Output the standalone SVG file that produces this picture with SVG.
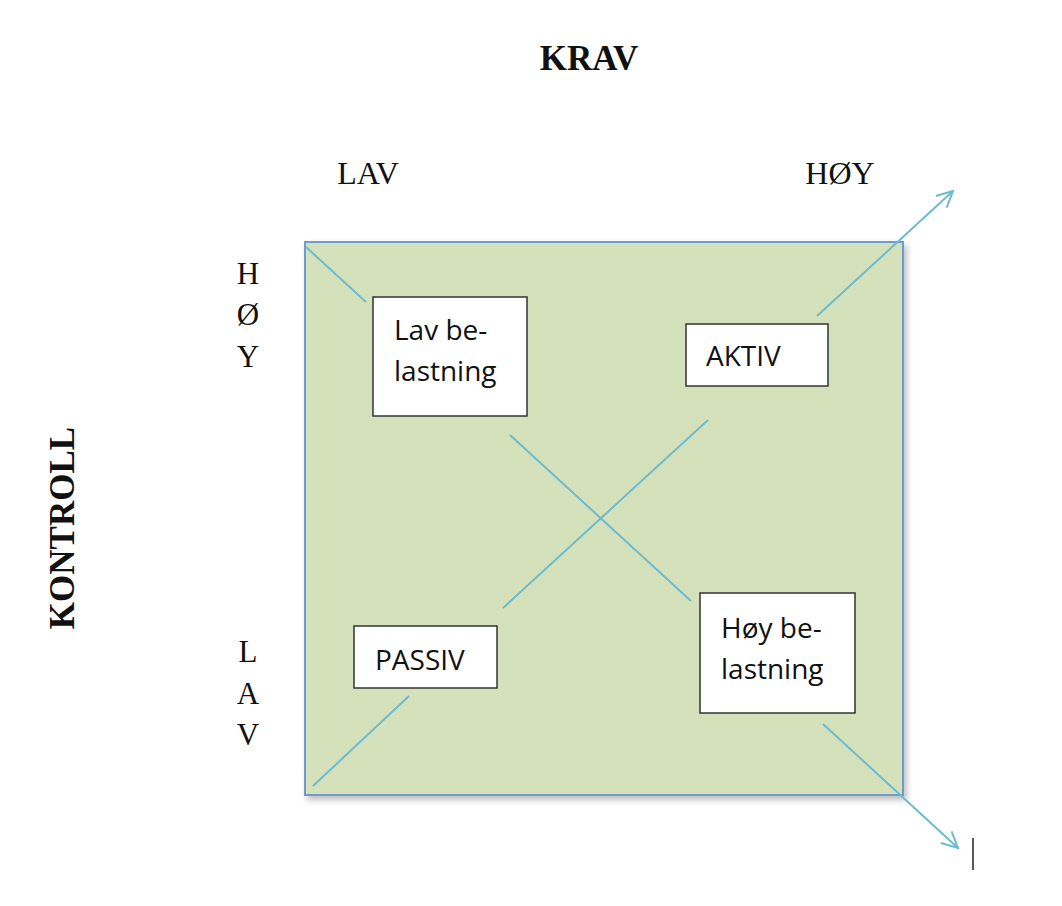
<svg xmlns="http://www.w3.org/2000/svg" width="1062" height="906" viewBox="0 0 1062 906">
<defs>
<style>
.serif{font-family:"Liberation Serif","DejaVu Serif",serif;fill:#111}
.lbl{font-family:"Open Sans","Noto Sans","Liberation Sans",sans-serif;font-size:28px;fill:#111}
.box{fill:#fff;stroke:#333;stroke-width:1.5}
.conn{stroke:#6bbcd0;stroke-width:2;fill:none}
</style>
<marker id="arr" viewBox="0 0 20 20" refX="18" refY="10" markerWidth="20" markerHeight="20" markerUnits="userSpaceOnUse" orient="auto">
<path d="M2,2 L18,10 L2,18" fill="none" stroke="#6bbcd0" stroke-width="2"/>
</marker>
<filter id="sh" x="-5%" y="-5%" width="115%" height="115%">
<feDropShadow dx="3" dy="4" stdDeviation="3" flood-color="#000" flood-opacity="0.25"/>
</filter>
</defs>
<rect width="1062" height="906" fill="#fff"/>
<g id="quadrant">
<rect x="305" y="242" width="598" height="553" fill="#d5e1bb" stroke="#6f9bd0" stroke-width="2" filter="url(#sh)"/>
</g>
<g id="labels">
<text class="serif" x="589" y="70" font-size="35" font-weight="bold" text-anchor="middle">KRAV</text>
<text class="serif" x="368" y="184" font-size="32" text-anchor="middle">LAV</text>
<text class="serif" x="840" y="184" font-size="32" text-anchor="middle">HØY</text>
<text class="serif" x="248" y="284" font-size="31" text-anchor="middle">H</text>
<text class="serif" x="248" y="325" font-size="31" text-anchor="middle">Ø</text>
<text class="serif" x="248" y="367" font-size="31" text-anchor="middle">Y</text>
<text class="serif" x="248" y="662" font-size="31" text-anchor="middle">L</text>
<text class="serif" x="248" y="704" font-size="31" text-anchor="middle">A</text>
<text class="serif" x="248" y="745" font-size="31" text-anchor="middle">V</text>
<text class="serif" transform="translate(74,528) rotate(-90)" font-size="35" font-weight="bold" text-anchor="middle">KONTROLL</text>
</g>
<g id="connectors">
<line class="conn" x1="306" y1="247" x2="366" y2="302"/>
<line class="conn" x1="510" y1="435" x2="691" y2="601"/>
<line class="conn" x1="823" y1="724" x2="958" y2="848" marker-end="url(#arr)"/>
<line class="conn" x1="313" y1="786" x2="409" y2="696"/>
<line class="conn" x1="503" y1="608" x2="708" y2="420"/>
<line class="conn" x1="817" y1="316" x2="953" y2="191" marker-end="url(#arr)"/>
</g>
<g id="node-lav-belastning">
<rect class="box" x="373" y="297" width="154" height="119"/>
<text class="lbl" x="394" y="340">Lav be-</text>
<text class="lbl" x="394" y="381">lastning</text>
</g>
<g id="node-aktiv">
<rect class="box" x="686" y="324" width="142" height="62"/>
<text class="lbl" x="706" y="366">AKTIV</text>
</g>
<g id="node-passiv">
<rect class="box" x="354" y="626" width="143" height="62"/>
<text class="lbl" x="375" y="670">PASSIV</text>
</g>
<g id="node-hoy-belastning">
<rect class="box" x="700" y="593" width="155" height="120"/>
<text class="lbl" x="721" y="638">Høy be-</text>
<text class="lbl" x="721" y="679">lastning</text>
</g>
<line x1="973" y1="838" x2="973" y2="870" stroke="#222" stroke-width="1.5"/>
</svg>
